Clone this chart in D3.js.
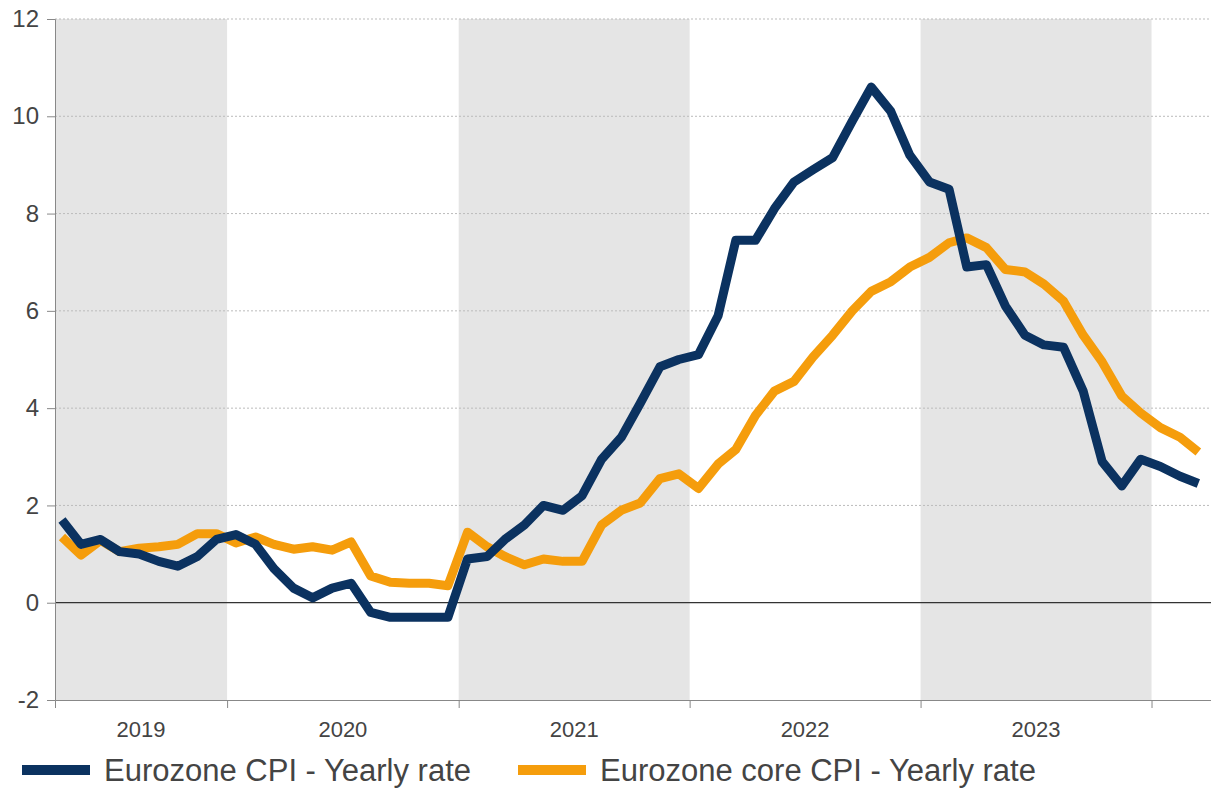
<!DOCTYPE html>
<html>
<head>
<meta charset="utf-8">
<script src="https://cdn.jsdelivr.net/npm/d3@7"></script>
<style>
  body { margin: 0; background: #fff; }
  text { font-family: "Liberation Sans", Arial, sans-serif; fill: #444; }
</style>
</head>
<body>
<svg id="chart" width="1211" height="788"></svg>
<script>
// monthly observations, Apr 2019 .. Mar 2024
var startMonth = "2019-04";
var cpi = [1.7, 1.2, 1.3, 1.05, 1.0, 0.85, 0.75, 0.95, 1.3,
  1.4, 1.2, 0.7, 0.3, 0.1, 0.3, 0.4, -0.2, -0.3, -0.3, -0.3, -0.3,
  0.9, 0.95, 1.3, 1.6, 2.0, 1.9, 2.2, 2.95, 3.4, 4.1, 4.85, 5.0,
  5.1, 5.9, 7.45, 7.45, 8.1, 8.65, 8.9, 9.15, 9.9, 10.6, 10.1, 9.2,
  8.65, 8.5, 6.9, 6.95, 6.1, 5.5, 5.3, 5.25, 4.35, 2.9, 2.4, 2.95,
  2.8, 2.6, 2.45];
var core = [1.35, 0.98, 1.28, 1.05, 1.12, 1.15, 1.2, 1.42, 1.42,
  1.23, 1.35, 1.2, 1.1, 1.15, 1.08, 1.25, 0.55, 0.42, 0.4, 0.4, 0.35,
  1.45, 1.15, 0.95, 0.78, 0.9, 0.85, 0.85, 1.6, 1.9, 2.05, 2.55, 2.65,
  2.35, 2.85, 3.15, 3.85, 4.35, 4.55, 5.05, 5.5, 6.0, 6.4, 6.6, 6.9,
  7.1, 7.4, 7.5, 7.3, 6.85, 6.8, 6.55, 6.2, 5.5, 4.95, 4.25, 3.9,
  3.6, 3.4, 3.1];
var years = [2019, 2020, 2021, 2022, 2023];
var yTicks = [-2, 0, 2, 4, 6, 8, 10, 12];
var seriesNames = ["Eurozone CPI - Yearly rate", "Eurozone core CPI - Yearly rate"];
var colors = ["#0b3260", "#f59d0c"];

var svg = d3.select("#chart"),
    margin = {top: 19, right: 0, bottom: 88, left: 55},
    width = +svg.attr("width") - margin.left - margin.right,
    height = +svg.attr("height") - margin.top - margin.bottom;

var parseMonth = d3.timeParse("%Y-%m");
var t0 = parseMonth(startMonth);
var dates = cpi.map(function(d, i) {
  var m = d3.timeMonth.offset(t0, i);
  return new Date(m.getFullYear(), m.getMonth(), 15);
});

var x = d3.scaleTime()
    .domain([new Date(2019, 3, 4), new Date(2024, 3, 4)])
    .range([0, width]);
var y = d3.scaleLinear().domain([-2, 12]).range([height, 0]);

var g = svg.append("g")
    .attr("transform", "translate(" + margin.left + "," + margin.top + ")");

// alternating year bands
years.forEach(function(yr, i) {
  if (i % 2 === 0) {
    var a = Math.max(0, x(new Date(yr, 0, 1))),
        b = Math.min(width, x(new Date(yr + 1, 0, 1)));
    g.append("rect")
      .attr("x", a).attr("y", 0)
      .attr("width", b - a).attr("height", height)
      .attr("fill", "#e5e5e5");
  }
});

// grid
g.selectAll(".grid")
  .data(yTicks.filter(function(d) { return d > 0; }))
  .enter().append("line")
    .attr("x1", 0).attr("x2", width)
    .attr("y1", function(d) { return y(d); })
    .attr("y2", function(d) { return y(d); })
    .attr("stroke", "#bbb")
    .attr("stroke-dasharray", "2,2");

g.append("line")
    .attr("x1", 0).attr("x2", width)
    .attr("y1", y(0)).attr("y2", y(0))
    .attr("stroke", "#333").attr("stroke-width", 1.2);

// y axis
var yAxis = g.append("g")
    .call(d3.axisLeft(y).tickValues(yTicks).tickSize(8).tickPadding(8)
      .tickFormat(function(d) { return String(d); }));
yAxis.selectAll("text").style("font-size", "24px").attr("fill", "#444");
yAxis.selectAll("line, path").attr("stroke", "#888");

// x axis: ticks at year boundaries, labels centred in visible part of the year
var boundaries = years.slice(1).map(function(yr) { return new Date(yr, 0, 1); })
    .concat([new Date(2024, 0, 1)]);
var xAxis = g.append("g")
    .attr("transform", "translate(0," + height + ")")
    .call(d3.axisBottom(x).tickValues(boundaries).tickSize(8).tickFormat(""));
xAxis.selectAll("line, path").attr("stroke", "#888");

g.selectAll(".year")
  .data(years)
  .enter().append("text")
    .attr("x", function(yr) {
      var a = Math.max(0, x(new Date(yr, 0, 1))),
          b = x(new Date(yr + 1, 0, 1));
      return (a + b) / 2;
    })
    .attr("y", height + 37)
    .attr("text-anchor", "middle")
    .style("font-size", "22px")
    .text(function(yr) { return yr; });

// lines
var line = d3.line()
    .x(function(d, i) { return x(dates[i]); })
    .y(function(d) { return y(d); });

[core, cpi].forEach(function(s, k) {
  g.append("path")
    .datum(s)
    .attr("fill", "none")
    .attr("stroke", k === 0 ? colors[1] : colors[0])
    .attr("stroke-width", 9)
    .attr("stroke-linejoin", "round")
    .attr("d", line);
});

// legend
var legend = svg.append("g").attr("transform", "translate(0,770)");
var legX = [22, 518];
seriesNames.forEach(function(name, i) {
  legend.append("line")
    .attr("x1", legX[i]).attr("x2", legX[i] + 68)
    .attr("y1", 0).attr("y2", 0)
    .attr("stroke", colors[i]).attr("stroke-width", 10);
  legend.append("text")
    .attr("x", legX[i] + 82).attr("y", 11)
    .style("font-size", "31px")
    .text(name);
});
</script>
</body>
</html>
